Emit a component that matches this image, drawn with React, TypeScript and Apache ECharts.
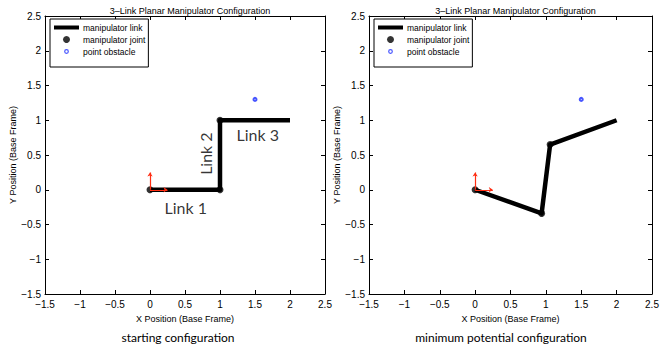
import React, { useEffect, useRef } from 'react';
import * as echarts from 'echarts';

// ---- data ----
const axisMin = -1.5;
const axisMax = 2.5;
const axisStep = 0.5;

const startLinks = [[0, 0], [1, 0], [1, 1], [2, 1]];
const startJoints = [[0, 0], [1, 0], [1, 1]];
const minLinks = [[0, 0], [0.94, -0.34], [1.06, 0.65], [2, 1]];
const minJoints = [[0, 0], [0.94, -0.34], [1.06, 0.65]];
const obstacle = [[1.5, 1.3]];
const frameXAxis = [[0, 0], [0.25, 0]];
const frameYAxis = [[0, 0], [0, 0.25]];
const linkLabelNames = ['Link 1', 'Link 2', 'Link 3'];
const linkLabelPos = [[0.51, -0.25], [0.79, 0.52], [1.54, 0.79]];
const linkLabelRotate = [0, 90, 0];

const plotTitle = '3–Link Planar Manipulator Configuration';
const captions = ['starting configuration', 'minimum potential configuration'];
const legendNames = ['manipulator link', 'manipulator joint', 'point obstacle'];

const grids = [
  { left: 45, top: 16, width: 280, height: 278 },
  { left: 369, top: 16, width: 283, height: 278 },
];

const RED = '#ff2d12';
const BLUE = '#1a2cff';
const FONT = '"Liberation Sans", Arial, sans-serif';

function fmt(v: number) {
  return String(v).replace('-', '\u2212');
}

export default function App() {
  const ref = useRef<HTMLDivElement>(null);
  useEffect(() => {
    const chart = echarts.init(ref.current!, null, { renderer: 'svg' });

    const xAxis: any[] = [];
    const yAxis: any[] = [];
    grids.forEach((_, gi) => {
      const common = {
        gridIndex: gi,
        type: 'value',
        min: axisMin,
        max: axisMax,
        interval: axisStep,
        splitLine: { show: false },
        axisLine: { show: true, onZero: false, lineStyle: { color: '#000', width: 1 } },
        axisTick: { show: true, inside: true, length: 4, lineStyle: { color: '#000' } },
      };
      xAxis.push({
        ...common,
        position: 'bottom',
        name: 'X Position (Base Frame)',
        nameLocation: 'middle',
        nameGap: 20,
        nameTextStyle: { fontSize: 9, color: '#000', fontFamily: FONT },
        axisLabel: { fontSize: 10, color: '#000', fontFamily: FONT, margin: 5, formatter: fmt },
      });
      xAxis.push({ ...common, position: 'top', axisLabel: { show: false } });
      yAxis.push({
        ...common,
        position: 'left',
        name: 'Y Position (Base Frame)',
        nameLocation: 'middle',
        nameGap: 24,
        nameTextStyle: { fontSize: 9, color: '#000', fontFamily: FONT },
        axisLabel: { fontSize: 10, color: '#000', fontFamily: FONT, margin: 4, formatter: fmt },
      });
      yAxis.push({ ...common, position: 'right', axisLabel: { show: false } });
    });

    const series: any[] = [];
    const configs = [
      { links: startLinks, joints: startJoints },
      { links: minLinks, joints: minJoints },
    ];
    configs.forEach((cfg, gi) => {
      const ax = { xAxisIndex: gi * 2, yAxisIndex: gi * 2 };
      series.push({
        ...ax,
        name: 'manipulator link',
        type: 'line',
        data: cfg.links,
        symbol: 'none',
        itemStyle: { color: '#000' },
        lineStyle: { color: '#000', width: 4.5, cap: 'butt', join: 'round' },
        z: 2,
      });
      series.push({
        ...ax,
        name: 'manipulator joint',
        type: 'scatter',
        data: cfg.joints,
        symbol: 'circle',
        symbolSize: 7,
        itemStyle: { color: '#000' },
        z: 3,
      });
      series.push({
        ...ax,
        name: 'point obstacle',
        type: 'scatter',
        data: obstacle,
        symbol: 'emptyCircle',
        symbolSize: 3,
        itemStyle: { color: BLUE, borderColor: BLUE, borderWidth: 1 },
        z: 3,
      });
      series.push({
        ...ax,
        type: 'lines',
        coordinateSystem: 'cartesian2d',
        data: [{ coords: frameXAxis }, { coords: frameYAxis }],
        symbol: ['none', 'arrow'],
        symbolSize: 4,
        lineStyle: { color: RED, width: 1.2, opacity: 1 },
        z: 5,
      });
      if (gi === 0) {
        series.push({
          ...ax,
          type: 'scatter',
          symbolSize: 0,
          silent: true,
          data: linkLabelNames.map((n, i) => ({
            value: linkLabelPos[i],
            name: n,
            label: { rotate: linkLabelRotate[i] },
          })),
          label: {
            show: true,
            position: 'inside',
            formatter: (p: any) => p.name,
            fontSize: 16,
            color: '#000',
            fontFamily: 'Lato, "Open Sans", sans-serif',
          },
          z: 6,
        });
      }
    });

    const legendData = [
      { name: legendNames[0], icon: 'path://M0,0 L25,0 L25,4 L0,4 Z', itemStyle: { color: '#000', borderWidth: 0 } },
      { name: legendNames[1], icon: 'circle', itemStyle: { color: '#000', borderWidth: 0 } },
      {
        name: legendNames[2],
        icon: 'path://M-3.5,-3.5 M3.5,3.5 M0,-1.8 A1.8,1.8 0 1 1 0,1.8 A1.8,1.8 0 1 1 0,-1.8 Z',
        itemStyle: { color: 'rgba(0,0,0,0)', borderColor: BLUE, borderWidth: 1.2 },
      },
    ];

    const option: any = {
      animation: false,
      backgroundColor: '#fff',
      grid: grids.map((g) => ({ ...g, show: false, containLabel: false })),
      xAxis,
      yAxis,
      title: [
        ...grids.map((g) => ({
          text: plotTitle,
          left: g.left + g.width / 2,
          top: 1,
          textAlign: 'center',
          textStyle: { fontSize: 9, fontWeight: 'normal', color: '#000', fontFamily: FONT },
        })),
        ...captions.map((c, i) => ({
          text: c,
          left: i === 0 ? 173 : 496,
          top: 326,
          textAlign: 'center',
          textStyle: { fontSize: 12, fontWeight: 'normal', color: '#000', fontFamily: 'Lato, sans-serif' },
        })),
      ],
      legend: grids.map((g) => ({
        left: g.left + 5,
        top: 19,
        orient: 'vertical',
        itemWidth: 25,
        itemHeight: 7,
        itemGap: 3,
        padding: [4, 3, 11, 4],
        borderColor: '#000',
        borderWidth: 1,
        borderRadius: 0,
        backgroundColor: '#fff',
        selectedMode: false,
        textStyle: { fontSize: 8.5, color: '#000', fontFamily: FONT, padding: [0, 0, 0, -1] },
        data: legendData,
        z: 10,
      })),
      series,
    };
    chart.setOption(option);
    return () => chart.dispose();
  }, []);
  return (
    <div
      ref={ref}
      style={{ position: 'absolute', left: 0, top: 0, width: 671, height: 346 }}
    />
  );
}
